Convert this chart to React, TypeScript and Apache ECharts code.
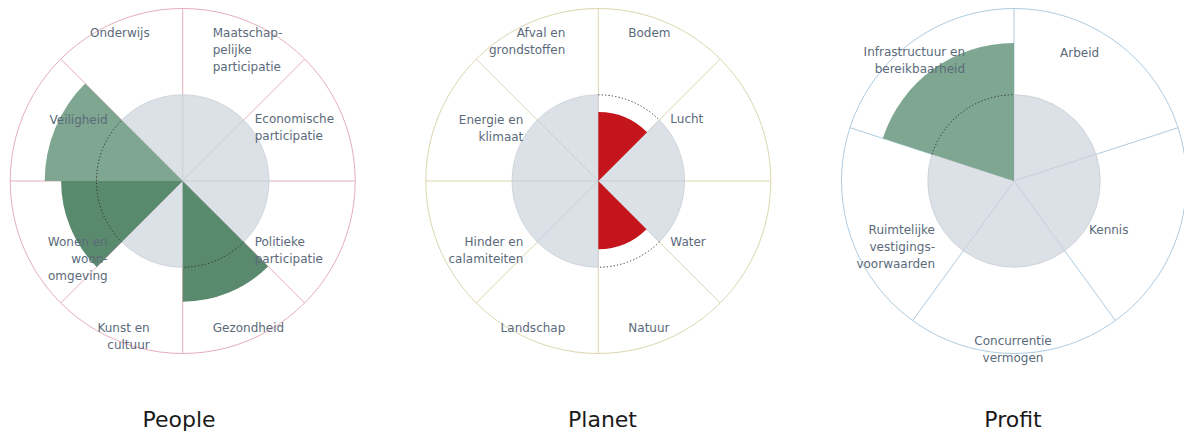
import React, { useEffect, useRef } from "react";
import * as echarts from "echarts";

// ---------- data ----------
const titles = ["People", "Planet", "Profit"];
const normValue = 1;
const radiusMax = 2;

const peopleCategories = [
  "Maatschappelijke participatie",
  "Economische participatie",
  "Politieke participatie",
  "Gezondheid",
  "Kunst en cultuur",
  "Wonen en woonomgeving",
  "Veiligheid",
  "Onderwijs",
];
const peopleLabels = [
  "Maatschap-\npelijke\nparticipatie",
  "Economische\nparticipatie",
  "Politieke\nparticipatie",
  "Gezondheid",
  "Kunst en\ncultuur",
  "Wonen en\nwoon-\nomgeving",
  "Veiligheid",
  "Onderwijs",
];
const peopleValues: (number | null)[] = [null, null, null, 1.4, null, 1.41, 1.6, null];

const planetCategories = [
  "Bodem",
  "Lucht",
  "Water",
  "Natuur",
  "Landschap",
  "Hinder en calamiteiten",
  "Energie en klimaat",
  "Afval en grondstoffen",
];
const planetLabels = [
  "Bodem",
  "Lucht",
  "Water",
  "Natuur",
  "Landschap",
  "Hinder en\ncalamiteiten",
  "Energie en\nklimaat",
  "Afval en\ngrondstoffen",
];
const planetValues: (number | null)[] = [0.8, null, null, 0.79, null, null, null, null];

const profitCategories = [
  "Arbeid",
  "Kennis",
  "Concurrentievermogen",
  "Ruimtelijke vestigingsvoorwaarden",
  "Infrastructuur en bereikbaarheid",
];
const profitLabels = [
  "Arbeid",
  "Kennis",
  "Concurrentie\nvermogen",
  "Ruimtelijke\nvestigings-\nvoorwaarden",
  "Infrastructuur en\nbereikbaarheid",
];
const profitValues: (number | null)[] = [null, null, null, null, 1.6];

// ---------- styles & layout ----------
const LIGHT_GREEN = "#7fa690";
const DARK_GREEN = "#5a8a6e";
const RED = "#c3151b";
const peopleColors = ["", "", "", DARK_GREEN, "", DARK_GREEN, LIGHT_GREEN, ""];
const planetColors = [RED, "", "", RED, "", "", "", ""];
const profitColors = ["", "", "", "", LIGHT_GREEN];

const lineColors = ["#e6aebd", "#dcd6b0", "#aecbe0"];
const centers = [
  [182.7, 181],
  [598.3, 181],
  [1014, 181],
];
const outerRadius = 172.5;
const titleX = [179, 602.5, 1013];
const titleY = 419.4;

type LabelPos = [number, number, "left" | "right" | "center"];
const eightLayout: LabelPos[] = [
  [30, -148, "left"],
  [72, -62, "left"],
  [72, 60.5, "left"],
  [30, 147, "left"],
  [-33, 147, "right"],
  [-75, 60.5, "right"],
  [-75, -61.5, "right"],
  [-33, -148, "right"],
];
const fiveLayout: LabelPos[] = [
  [46, -128.5, "left"],
  [75, 49, "left"],
  [-1, 160, "center"],
  [-79, 49, "right"],
  [-49, -129, "right"],
];

const charts = [
  { categories: peopleCategories, labels: peopleLabels, values: peopleValues, colors: peopleColors, layout: eightLayout },
  { categories: planetCategories, labels: planetLabels, values: planetValues, colors: planetColors, layout: eightLayout },
  { categories: profitCategories, labels: profitLabels, values: profitValues, colors: profitColors, layout: fiveLayout },
];

const LABEL_COLOR = "#5b6a7a";
const LINE_H = 17;

function buildOption(): any {
  const polar: any[] = [];
  const angleAxis: any[] = [];
  const radiusAxis: any[] = [];
  const series: any[] = [];
  const graphic: any[] = [];

  charts.forEach((c, i) => {
    const n = c.categories.length;
    polar.push({ center: centers[i], radius: outerRadius });
    angleAxis.push({
      polarIndex: i,
      type: "category",
      data: c.categories,
      startAngle: 90,
      clockwise: true,
      boundaryGap: true,
      axisLine: { show: true, lineStyle: { color: lineColors[i], width: 1 } },
      axisTick: { show: false },
      axisLabel: { show: false },
      splitLine: { show: true, lineStyle: { color: lineColors[i], width: 1 } },
    });
    radiusAxis.push({
      polarIndex: i,
      type: "value",
      min: 0,
      max: radiusMax,
      axisLine: { show: false },
      axisTick: { show: false },
      axisLabel: { show: false },
      splitLine: { show: false },
    });

    // grey norm circle for sectors without a value
    series.push({
      type: "bar",
      coordinateSystem: "polar",
      polarIndex: i,
      barCategoryGap: "0%",
      barGap: "-100%",
      silent: true,
      z: 2,
      itemStyle: { color: "#dce1e7", borderColor: "#c9ced6", borderWidth: 0.8 },
      data: c.values.map((v) => (v == null ? normValue : "-")),
    });
    // value sectors
    series.push({
      type: "bar",
      coordinateSystem: "polar",
      polarIndex: i,
      barCategoryGap: "0%",
      barGap: "-100%",
      silent: true,
      z: 3,
      data: c.values.map((v, k) =>
        v == null ? "-" : { value: v, itemStyle: { color: c.colors[k] } }
      ),
    });
    // dotted norm arcs inside value sectors
    const arcData: number[][] = [];
    c.values.forEach((v, k) => {
      if (v != null) arcData.push([normValue, k]);
    });
    series.push({
      type: "custom",
      coordinateSystem: "polar",
      polarIndex: i,
      silent: true,
      z: 10,
      encode: { radius: 0, angle: 1 },
      data: arcData,
      renderItem: (params: any, api: any) => {
        const cs = params.coordSys;
        const p = api.coord([api.value(0), api.value(1)]);
        const dx = p[0] - cs.cx;
        const dy = p[1] - cs.cy;
        const r = Math.sqrt(dx * dx + dy * dy);
        const mid = Math.atan2(dy, dx);
        const half = Math.PI / n;
        return {
          type: "arc",
          z2: 10,
          shape: { cx: cs.cx, cy: cs.cy, r, startAngle: mid - half, endAngle: mid + half, clockwise: true },
          style: { stroke: "#2a2a2a", lineWidth: 1, lineDash: [1.2, 2.2], fill: "none" },
        };
      },
    });

    // sector labels
    c.labels.forEach((txt, k) => {
      const [dx, dy, align] = c.layout[k];
      graphic.push({
        type: "text",
        z: 100,
        silent: true,
        x: centers[i][0] + dx,
        y: centers[i][1] + dy - LINE_H / 2,
        style: {
          text: txt,
          fill: LABEL_COLOR,
          fontSize: 12,
          fontFamily: "DejaVu Sans",
          lineHeight: LINE_H,
          align,
          textAlign: align,
          verticalAlign: "top",
          textVerticalAlign: "top",
        },
      });
    });

    // chart title
    graphic.push({
      type: "text",
      z: 100,
      silent: true,
      x: titleX[i],
      y: titleY,
      style: {
        text: titles[i],
        fill: "#1a1a1a",
        fontSize: 22,
        fontFamily: "DejaVu Sans",
        align: "center",
        textAlign: "center",
        verticalAlign: "middle",
        textVerticalAlign: "middle",
      },
    });
  });

  return {
    animation: false,
    backgroundColor: "#ffffff",
    polar,
    angleAxis,
    radiusAxis,
    series,
    graphic,
  };
}

export default function App() {
  const ref = useRef<HTMLDivElement>(null);
  useEffect(() => {
    if (!ref.current) return;
    const chart = echarts.init(ref.current, undefined, { renderer: "svg" });
    chart.setOption(buildOption());
    return () => chart.dispose();
  }, []);
  return (
    <div
      ref={ref}
      style={{ position: "fixed", left: 0, top: 0, width: 1184, height: 432, background: "#fff" }}
    />
  );
}
